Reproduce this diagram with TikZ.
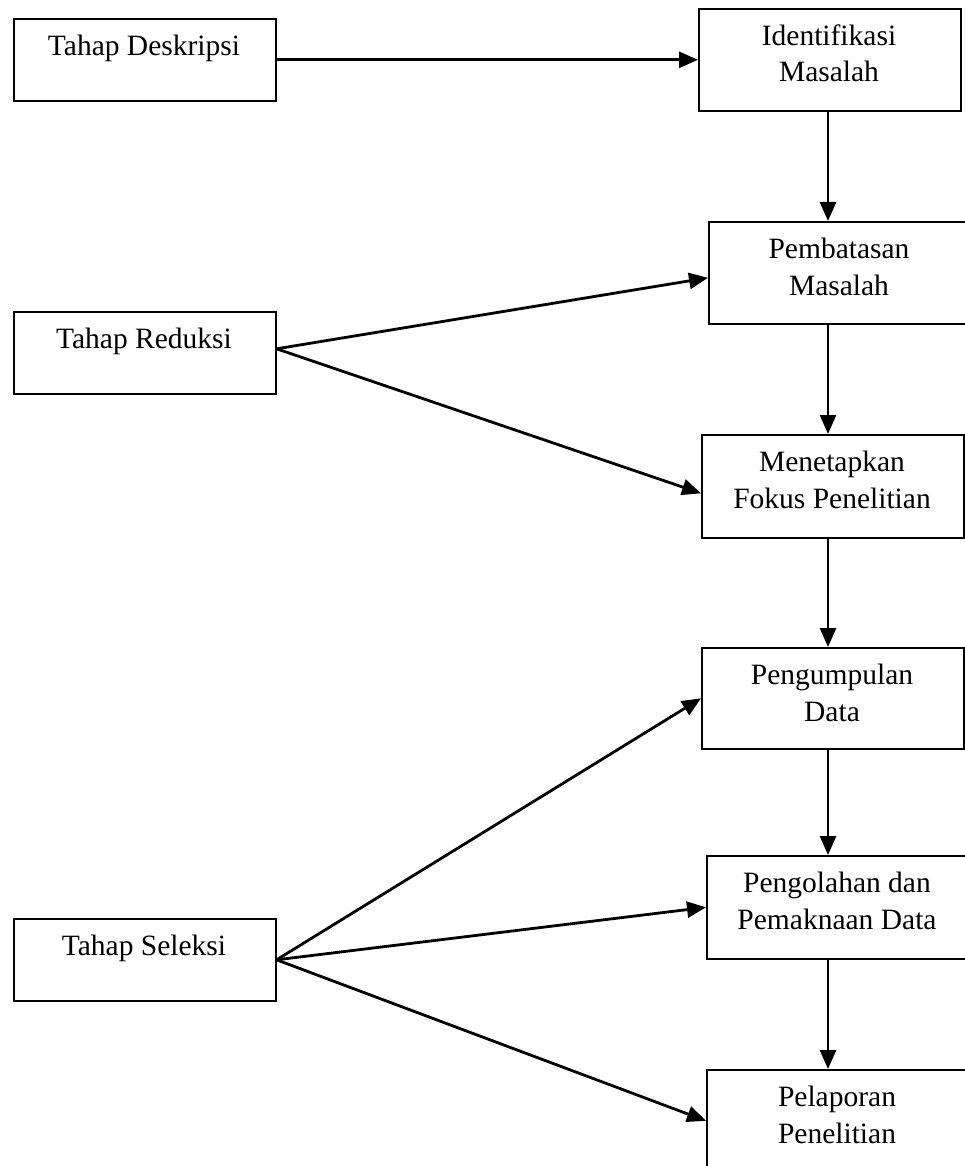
\documentclass[tikz,border=0pt]{standalone}
\usepackage{fontspec}
\setmainfont{Liberation Serif}
\usetikzlibrary{arrows.meta}
\begin{document}
\begin{tikzpicture}[x=1pt,y=-1pt,
  box/.style={draw=black, line width=1.6pt, minimum width=262pt, minimum height=#1, anchor=north west, inner sep=0pt},
  box/.default=102pt,
  txt/.style={font=\fontsize{29.5}{36.5}\selectfont, anchor=base, inner sep=0pt},
  arr/.style={line width=2.8pt, -{Triangle[length=19pt,width=16pt]}},
  ]
\useasboundingbox (0,0) rectangle (965,1166);
\clip (0,0) rectangle (965,1166);

% left boxes
\node[box=82pt] (desk) at (13,18) {};
\node[box=82pt] (red) at (13,311) {};
\node[box=82pt] (sel) at (13,918) {};
\node[txt] (deskt) at (144,55.5) {Tahap Deskripsi};
\node[txt] (redt) at (144,348.5) {Tahap Reduksi};
\node[txt] (selt) at (144,955.5) {Tahap Seleksi};

% right boxes
\node[box=102pt] (ident) at (698,8) {};
\node[box=102pt] (pemb) at (708,221) {};
\node[box=103pt] (men) at (701,434) {};
\node[box=101pt] (pengu) at (701,647) {};
\node[box=103pt] (pengol) at (706,855) {};
\node[box=102pt] (pelap) at (706,1069) {};

\node[txt] (identt) at (829,45.5) {\begin{tabular}[t]{@{}c@{}}Identifikasi\\Masalah\end{tabular}};
\node[txt] (pembt) at (839,258.5) {\begin{tabular}[t]{@{}c@{}}Pembatasan\\Masalah\end{tabular}};
\node[txt] (ment) at (832,471.5) {\begin{tabular}[t]{@{}c@{}}Menetapkan\\Fokus Penelitian\end{tabular}};
\node[txt] (pengut) at (832,684.5) {\begin{tabular}[t]{@{}c@{}}Pengumpulan\\Data\end{tabular}};
\node[txt] (pengolt) at (837,892.5) {\begin{tabular}[t]{@{}c@{}}Pengolahan dan\\Pemaknaan Data\end{tabular}};
\node[txt] (pelapt) at (837,1106.5) {\begin{tabular}[t]{@{}c@{}}Pelaporan\\Penelitian\end{tabular}};

% connectors
\coordinate (sp) at (828,0);
\draw[arr] (desk.east) -- (desk.east -| ident.west);
\draw[arr] (sp |- ident.south) -- (sp |- pemb.north);
\draw[arr] (sp |- pemb.south) -- (sp |- men.north);
\draw[arr] (sp |- men.south) -- (sp |- pengu.north);
\draw[arr] (sp |- pengu.south) -- (sp |- pengol.north);
\draw[arr] (sp |- pengol.south) -- (sp |- pelap.north);

\draw[arr] ([yshift=4pt]red.east) -- ([yshift=-5pt]pemb.west);
\draw[arr] ([yshift=4pt]red.east) -- ([yshift=-7pt]men.west);
\draw[arr] (sel.east) -- (pengu.west);
\draw[arr] (sel.east) -- (pengol.west);
\draw[arr] (sel.east) -- (pelap.west);
\end{tikzpicture}
\end{document}
